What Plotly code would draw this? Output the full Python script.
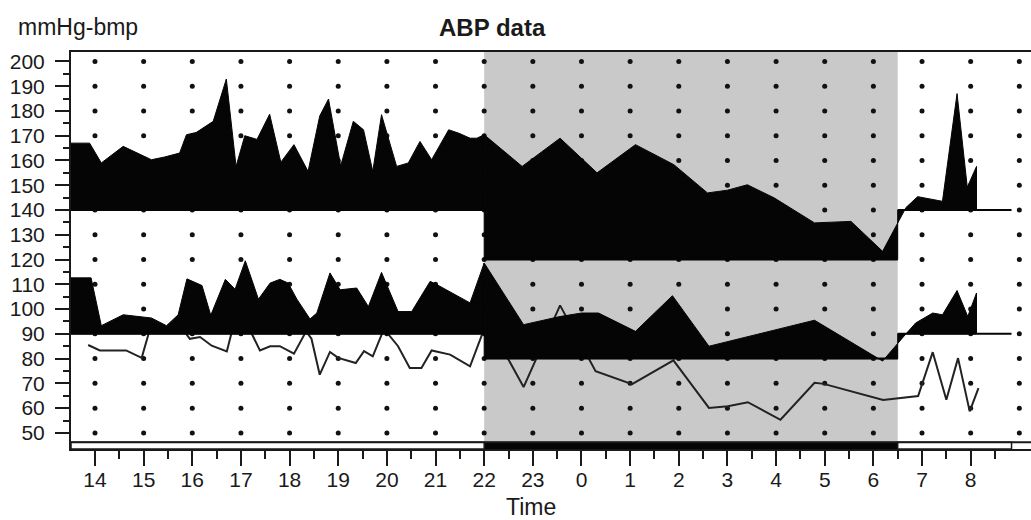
import numpy as np
import plotly.graph_objects as go

# ---------------- data (time in hours; values >= 24 are the next morning) ----------------
sbp_t = [13.5, 13.89, 14.13, 14.58, 15.16, 15.43, 15.74, 15.88, 16.08, 16.43, 16.70, 16.90,
         17.08, 17.33, 17.59, 17.82, 18.09, 18.38, 18.62, 18.80, 19.05, 19.31, 19.52, 19.71,
         19.89, 20.20, 20.44, 20.68, 20.92, 21.27, 21.48, 21.71, 21.85, 22.0, 22.78, 23.56,
         24.32, 25.11, 25.90, 26.59, 27.0, 27.41, 27.96, 28.79, 29.54, 30.19, 30.67, 30.91,
         31.42, 31.72, 31.93, 32.12]
sbp = [167, 167, 159, 165.7, 160.3, 161.4, 163, 170.4, 171.3, 175.8, 192.9, 157.6,
       170, 168.5, 178.7, 159.3, 166.4, 155.6, 178, 184.8, 157.8, 175.8, 172.4, 155.6,
       178.5, 157.6, 159, 167.7, 160.3, 172.4, 171, 169, 169, 170.4, 157.6, 169,
       155, 166.4, 158.3, 146.9, 148, 150.2, 144.9, 134.8, 135.4, 123.3, 141, 145.4,
       143.5, 187, 149.2, 157.6]

dbp_t = [13.5, 13.92, 14.13, 14.58, 15.16, 15.47, 15.71, 15.89, 16.20, 16.38, 16.68, 16.88,
         17.09, 17.36, 17.60, 17.80, 17.97, 18.15, 18.42, 18.56, 18.83, 19.04, 19.38, 19.62,
         19.89, 20.23, 20.51, 20.89, 21.09, 21.71, 22.0, 22.81, 23.56, 24.0, 24.35, 25.11,
         25.87, 26.62, 28.79, 30.19, 30.67, 30.87, 31.22, 31.42, 31.72, 31.94, 32.12]
dbp = [112.6, 112.6, 93.3, 97.7, 96.4, 93.3, 97.7, 112.2, 109.5, 97.5, 112, 108,
       119.5, 104, 110.5, 112, 110.5, 104, 96, 98.4, 114.6, 107.8, 108.5, 101,
       114.8, 99, 99, 111.2, 109.2, 102.5, 118.6, 93.7, 97, 98.4, 98.4, 91,
       105.4, 85, 95.5, 79, 90, 94.4, 98.4, 97.7, 107.5, 97, 106.5]

hr_t = [13.86, 14.10, 14.64, 14.96, 15.13, 15.80, 15.95, 16.16, 16.40, 16.71, 16.84, 17.10,
        17.39, 17.60, 17.80, 18.09, 18.34, 18.45, 18.62, 18.83, 19.00, 19.36, 19.53, 19.71,
        19.94, 20.23, 20.47, 20.71, 20.92, 21.30, 21.71, 22.00, 22.50, 22.81, 23.56, 24.29,
        25.04, 25.89, 26.62, 27.01, 27.42, 28.09, 28.79, 28.98, 30.20, 30.92, 31.22, 31.50,
        31.74, 31.98, 32.16]
hr = [85.5, 83.3, 83.3, 80.3, 92, 92, 88, 88.7, 85.2, 82.9, 93, 95,
      83.3, 85, 85, 82, 91, 88, 73.5, 82.7, 80.3, 78.2, 83, 80.9,
      92, 85, 76.2, 76.2, 83.3, 81.6, 76.9, 92, 79.6, 68.5, 101.5, 74.9,
      69.7, 79.3, 60.1, 60.8, 62.4, 55.3, 70.2, 69.8, 63.3, 64.9, 82.6, 63.4,
      80.2, 58.7, 68.1]

night_start, night_end = 22.0, 30.5
record_start, record_end = 13.5, 32.84
sbp_limit_day, sbp_limit_night = 140, 120
dbp_limit_day, dbp_limit_night = 90, 80

tick_hours = list(range(14, 33))
tick_labels = [str(h % 24) for h in tick_hours]
minor_hours = [h + 0.5 for h in range(13, 33)]
grid_hours = list(range(14, 34))
grid_levels = list(range(50, 201, 10))
y_ticks = list(range(50, 201, 10))
y_minor = list(range(55, 200, 10))

X_RANGE = [13.507, 33.24]
Y_RANGE = [43.5, 203.8]
BAR_TOP = 46.2

INK = "#1a1a1a"
FONT = "Liberation Sans, Arial, sans-serif"


def band(t, v, a, b, base):
    t = np.asarray(t, float)
    v = np.asarray(v, float)
    a2 = max(a, t[0])
    b2 = min(b, t[-1])
    inner = (t > a2) & (t < b2)
    xs = [a2] + list(t[inner]) + [b2]
    ys = [float(np.interp(a2, t, v))] + list(v[inner]) + [float(np.interp(b2, t, v))]
    px = [a2] + xs + [b2, a2]
    py = [base] + ys + [base, base]
    return px, py


fig = go.Figure()

# dotted grid
gx, gy = [], []
for h in grid_hours:
    for lv in grid_levels:
        gx.append(h)
        gy.append(lv)
fig.add_trace(go.Scatter(x=gx, y=gy, mode="markers",
                         marker=dict(size=5, color="#111"), hoverinfo="skip"))

# heart rate (drawn under the pressure bands, as in the original)
fig.add_trace(go.Scatter(x=hr_t, y=hr, mode="lines",
                         line=dict(color="#222", width=2), hoverinfo="skip"))

segments = [(record_start, night_start, sbp_limit_day, dbp_limit_day),
            (night_start, night_end, sbp_limit_night, dbp_limit_night),
            (night_end, record_end, sbp_limit_day, dbp_limit_day)]

for a, b, s_lim, d_lim in segments:
    for t, v, lim in ((sbp_t, sbp, s_lim), (dbp_t, dbp, d_lim)):
        px, py = band(t, v, a, b, lim)
        fig.add_trace(go.Scatter(x=px, y=py, mode="lines", fill="toself",
                                 fillcolor="#050505", line=dict(color="#050505", width=1),
                                 hoverinfo="skip"))
        fig.add_trace(go.Scatter(x=[a, b], y=[lim, lim], mode="lines",
                                 line=dict(color="#050505", width=2), hoverinfo="skip"))

shapes = [
    dict(type="rect", xref="x", yref="y", x0=night_start, x1=night_end,
         y0=BAR_TOP, y1=Y_RANGE[1], fillcolor="#c9c9c9", line=dict(width=0), layer="below"),
    dict(type="rect", xref="x", yref="y", x0=night_start, x1=night_end,
         y0=Y_RANGE[0], y1=BAR_TOP, fillcolor="#050505", line=dict(color="#050505", width=1),
         layer="above"),
    dict(type="rect", xref="x", yref="y", x0=X_RANGE[0], x1=night_start,
         y0=Y_RANGE[0], y1=BAR_TOP, fillcolor="white", line=dict(color=INK, width=1.5),
         layer="above"),
    dict(type="rect", xref="x", yref="y", x0=night_end, x1=record_end,
         y0=Y_RANGE[0], y1=BAR_TOP, fillcolor="white", line=dict(color=INK, width=1.5),
         layer="above"),
    dict(type="line", xref="paper", yref="y", x0=0, x1=1, y0=BAR_TOP, y1=BAR_TOP,
         line=dict(color=INK, width=2), layer="above"),
]

annotations = [
    dict(text="mmHg-bmp", xref="paper", yref="paper", x=(16 - 71) / 960, y=(449 - 27.4) / 397,
         xanchor="left", yanchor="middle", showarrow=False,
         font=dict(family=FONT, size=23, color=INK)),
    dict(text="<b>ABP data</b>", xref="paper", yref="paper", x=(492 - 71) / 960,
         y=(449 - 27.0) / 397, xanchor="center", yanchor="middle", showarrow=False,
         font=dict(family=FONT, size=24, color=INK)),
    dict(text="Time", xref="paper", yref="paper", x=(531 - 71) / 960, y=(449 - 507.4) / 397,
         xanchor="center", yanchor="middle", showarrow=False,
         font=dict(family=FONT, size=23, color=INK)),
]

fig.update_layout(
    width=1031, height=520,
    margin=dict(l=71, r=0, t=52, b=71),
    paper_bgcolor="white", plot_bgcolor="white",
    showlegend=False,
    shapes=shapes,
    annotations=annotations,
    xaxis=dict(range=X_RANGE, showgrid=False, zeroline=False,
               showline=True, linecolor=INK, linewidth=2, mirror=True,
               ticks="outside", tickmode="array", tickvals=tick_hours, ticktext=tick_labels,
               ticklen=15, tickwidth=2, tickcolor=INK, ticklabelstandoff=-4,
               tickfont=dict(family=FONT, size=21, color=INK),
               minor=dict(tickmode="array", tickvals=minor_hours, ticks="outside",
                          ticklen=8, tickwidth=2, tickcolor=INK, showgrid=False)),
    yaxis=dict(range=Y_RANGE, showgrid=False, zeroline=False,
               showline=True, linecolor=INK, linewidth=2,
               ticks="outside", tickmode="array", tickvals=y_ticks,
               ticklen=14, tickwidth=2, tickcolor=INK, ticklabelstandoff=6,
               tickfont=dict(family=FONT, size=21, color=INK),
               minor=dict(tickmode="array", tickvals=y_minor, ticks="outside",
                          ticklen=6, tickwidth=2, tickcolor=INK, showgrid=False)),
)

fig.write_html("out.html")
